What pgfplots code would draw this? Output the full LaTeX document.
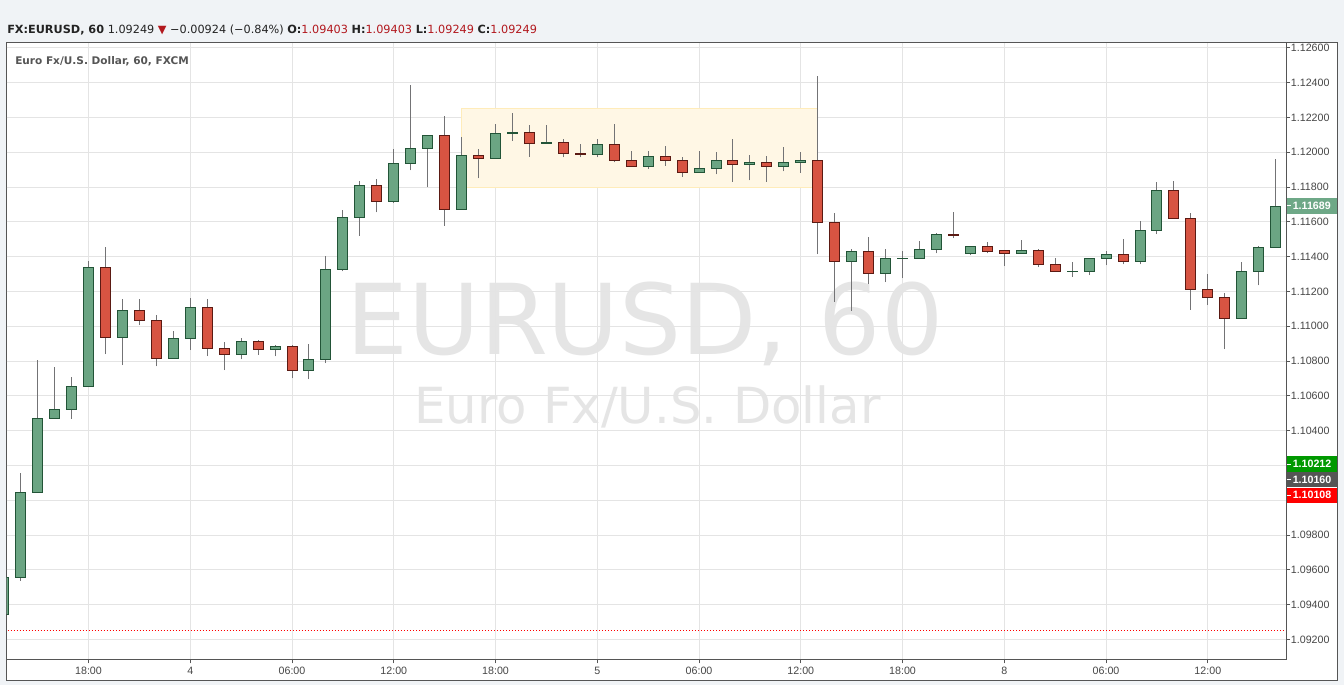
\documentclass[border=0pt]{standalone}
\usepackage{pgfplots}
\pgfplotsset{compat=1.18}
\usepackage{fontspec}
\setmainfont{Liberation Sans}
\newfontfamily\dv{DejaVu Sans}

\definecolor{bgc}{RGB}{240,243,246}
\definecolor{framec}{RGB}{85,85,85}
\definecolor{axc}{RGB}{85,85,85}
\definecolor{gridc}{RGB}{228,228,228}
\definecolor{lblc}{RGB}{70,70,70}
\definecolor{gf}{RGB}{107,165,131}
\definecolor{gb}{RGB}{34,84,55}
\definecolor{rf}{RGB}{215,84,66}
\definecolor{rb}{RGB}{91,26,19}
\definecolor{wick}{RGB}{115,115,117}
\definecolor{yf}{RGB}{255,247,229}
\definecolor{yb}{RGB}{255,236,186}
\definecolor{wmc}{RGB}{229,229,229}
\definecolor{hdrc}{RGB}{35,35,35}
\definecolor{valr}{RGB}{178,24,30}
\definecolor{titc}{RGB}{85,85,85}
\definecolor{b1}{RGB}{110,168,135}
\definecolor{b2}{RGB}{0,153,0}
\definecolor{b3}{RGB}{85,85,85}
\definecolor{b4}{RGB}{255,0,0}

% #1 index, #2 open, #3 high, #4 low, #5 close
\newcommand\candle[5]{%
  \ifdim#5pt<#2pt
    \def\cLo{#5}\def\cHi{#2}\def\cF{rf}\def\cB{rb}%
  \else
    \def\cLo{#2}\def\cHi{#5}\def\cF{gf}\def\cB{gb}%
  \fi
  \pgfmathsetmacro\xl{#1-0.295}%
  \pgfmathsetmacro\xr{#1+0.295}%
  \edef\tmp{%
    \noexpand\addplot[draw=wick, line width=0.75pt] coordinates {(#1,#4) (#1,#3)};
    \noexpand\addplot[draw=\cB, fill=\cF, line width=0.75pt] coordinates {(\xl,\cLo) (\xr,\cLo) (\xr,\cHi) (\xl,\cHi)} --cycle;}%
  \tmp
}

\begin{document}
\begin{tikzpicture}[x=0.75pt,y=-0.75pt]
\useasboundingbox (0,0) rectangle (1344,685);
\fill[bgc] (0,0) rectangle (1344,685);
\fill[white] (6.5,43) rectangle (1337,680);
\draw[framec, line width=0.75pt] (6.5,43) rectangle (1337,680);

% header
\node[anchor=base west, inner sep=0pt, text=hdrc, font=\dv\fontsize{8.45}{10}\selectfont] at (7,34)
 {\textbf{FX:EURUSD, 60}\ 1.09249 {\color{valr}▼} −0.00924 (−0.84\%) \textbf{O:}{\color{valr}1.09403} \textbf{H:}{\color{valr}1.09403} \textbf{L:}{\color{valr}1.09249} \textbf{C:}{\color{valr}1.09249}};

% watermark
\node[anchor=base, inner sep=0pt, text=wmc, font=\dv\fontsize{73.3}{80}\selectfont] at (645,354.5) {EURUSD, 60};
\node[anchor=base, inner sep=0pt, text=wmc, font=\dv\fontsize{37.3}{40}\selectfont] at (647.5,423.6) {Euro Fx/U.S. Dollar};

\begin{axis}[
  at={(4.875pt,-32.25pt)}, anchor=north west,
  scale only axis, width=959.625pt, height=462.2pt,
  xmin=-4.835, xmax=70.61, ymin=1.09086, ymax=1.12628,
  axis line style={draw=none},
  xtick={0,6,12,18,24,30,36,42,48,54,60,66},
  xticklabels={18:00,4,06:00,12:00,18:00,5,06:00,12:00,18:00,8,06:00,12:00},
  ytick={1.092,1.094,1.096,1.098,1.100,1.102,1.104,1.106,1.108,1.110,1.112,1.114,1.116,1.118,1.120,1.122,1.124,1.126},
  yticklabels={1.09200,1.09400,1.09600,1.09800,{},1.10200,1.10400,1.10600,1.10800,1.11000,1.11200,1.11400,1.11600,1.11800,1.12000,1.12200,1.12400,1.12600},
  xtick pos=left, ytick pos=right, yticklabel pos=right,
  tick align=outside, major tick length=3pt,
  tick style={draw=axc, line width=0.75pt},
  grid=major, major grid style={draw=gridc, line width=0.75pt},
  /pgf/number format/assume math mode=true,
  ticklabel style={font=\fontsize{8}{9}\selectfont, text=lblc},
  yticklabel style={anchor=west, inner sep=0pt, xshift=0.5pt},
  xticklabel style={anchor=north, inner sep=0pt, yshift=-2.5pt},
  clip=true,
]
% highlight rectangle
\addplot[fill=yf, draw=yb, line width=0.75pt] coordinates {(22,1.11796) (43,1.11796) (43,1.12252) (22,1.12252)} --cycle;
% last price line
\addplot[draw=red, line width=0.75pt, dash pattern=on 0.75pt off 1.5pt] coordinates {(-6,1.09249) (72,1.09249)};

\candle{-5}{1.09346}{1.09558}{1.09330}{1.09558}
\candle{-4}{1.09558}{1.10158}{1.09538}{1.10046}
\candle{-3}{1.10046}{1.10804}{1.10046}{1.10469}
\candle{-2}{1.10469}{1.10765}{1.10469}{1.10521}
\candle{-1}{1.10521}{1.10706}{1.10469}{1.10652}
\candle{0}{1.10652}{1.11377}{1.10652}{1.11335}
\candle{1}{1.11335}{1.11458}{1.10840}{1.10933}
\candle{2}{1.10933}{1.11154}{1.10777}{1.11090}
\candle{3}{1.11090}{1.11154}{1.11006}{1.11031}
\candle{4}{1.11031}{1.11063}{1.10769}{1.10813}
\candle{5}{1.10813}{1.10971}{1.10813}{1.10929}
\candle{6}{1.10929}{1.11165}{1.10863}{1.11106}
\candle{7}{1.11106}{1.11154}{1.10829}{1.10871}
\candle{8}{1.10871}{1.10908}{1.10748}{1.10838}
\candle{9}{1.10835}{1.10933}{1.10810}{1.10910}
\candle{10}{1.10910}{1.10919}{1.10835}{1.10869}
\candle{11}{1.10869}{1.10890}{1.10827}{1.10881}
\candle{12}{1.10881}{1.10890}{1.10700}{1.10744}
\candle{13}{1.10744}{1.10896}{1.10696}{1.10808}
\candle{14}{1.10808}{1.11406}{1.10788}{1.11325}
\candle{15}{1.11325}{1.11669}{1.11315}{1.11627}
\candle{16}{1.11627}{1.11835}{1.11521}{1.11810}
\candle{17}{1.11810}{1.11848}{1.11654}{1.11719}
\candle{18}{1.11719}{1.12019}{1.11706}{1.11938}
\candle{19}{1.11938}{1.12385}{1.11896}{1.12023}
\candle{20}{1.12023}{1.12098}{1.11798}{1.12098}
\candle{21}{1.12098}{1.12208}{1.11579}{1.11673}
\candle{22}{1.11673}{1.12088}{1.11673}{1.11983}
\candle{23}{1.11983}{1.12019}{1.11850}{1.11965}
\candle{24}{1.11965}{1.12163}{1.11965}{1.12108}
\candle{25}{1.12108}{1.12225}{1.12067}{1.12115}
\candle{26}{1.12115}{1.12156}{1.11975}{1.12052}
\candle{27}{1.12052}{1.12156}{1.12052}{1.12054}
\candle{28}{1.12056}{1.12077}{1.11971}{1.11994}
\candle{29}{1.11994}{1.12048}{1.11971}{1.11990}
\candle{30}{1.11990}{1.12077}{1.11971}{1.12046}
\candle{31}{1.12046}{1.12163}{1.11942}{1.11954}
\candle{32}{1.11954}{1.12008}{1.11919}{1.11919}
\candle{33}{1.11919}{1.12008}{1.11906}{1.11977}
\candle{34}{1.11977}{1.12035}{1.11923}{1.11954}
\candle{35}{1.11954}{1.11971}{1.11860}{1.11885}
\candle{36}{1.11885}{1.12008}{1.11885}{1.11908}
\candle{37}{1.11908}{1.12002}{1.11873}{1.11954}
\candle{38}{1.11954}{1.12077}{1.11831}{1.11931}
\candle{39}{1.11931}{1.11985}{1.11838}{1.11942}
\candle{40}{1.11942}{1.11977}{1.11831}{1.11921}
\candle{41}{1.11921}{1.12031}{1.11890}{1.11942}
\candle{42}{1.11942}{1.12000}{1.11883}{1.11954}
\candle{43}{1.11954}{1.12438}{1.11415}{1.11594}
\candle{44}{1.11594}{1.11652}{1.11140}{1.11375}
\candle{45}{1.11375}{1.11446}{1.11088}{1.11427}
\candle{46}{1.11427}{1.11515}{1.11242}{1.11306}
\candle{47}{1.11306}{1.11446}{1.11254}{1.11388}
\candle{48}{1.11388}{1.11435}{1.11277}{1.11390}
\candle{49}{1.11390}{1.11492}{1.11390}{1.11440}
\candle{50}{1.11440}{1.11537}{1.11419}{1.11525}
\candle{51}{1.11525}{1.11658}{1.11506}{1.11519}
\candle{52}{1.11419}{1.11462}{1.11408}{1.11456}
\candle{53}{1.11456}{1.11485}{1.11419}{1.11431}
\candle{54}{1.11433}{1.11437}{1.11346}{1.11421}
\candle{55}{1.11421}{1.11498}{1.11421}{1.11437}
\candle{56}{1.11437}{1.11446}{1.11340}{1.11356}
\candle{57}{1.11356}{1.11394}{1.11313}{1.11313}
\candle{58}{1.11313}{1.11367}{1.11285}{1.11317}
\candle{59}{1.11317}{1.11392}{1.11294}{1.11388}
\candle{60}{1.11388}{1.11435}{1.11350}{1.11415}
\candle{61}{1.11415}{1.11504}{1.11356}{1.11371}
\candle{62}{1.11371}{1.11606}{1.11356}{1.11548}
\candle{63}{1.11548}{1.11827}{1.11529}{1.11781}
\candle{64}{1.11781}{1.11835}{1.11617}{1.11617}
\candle{65}{1.11617}{1.11652}{1.11094}{1.11210}
\candle{66}{1.11210}{1.11298}{1.11121}{1.11165}
\candle{67}{1.11165}{1.11194}{1.10869}{1.11044}
\candle{68}{1.11044}{1.11367}{1.11044}{1.11313}
\candle{69}{1.11313}{1.11463}{1.11235}{1.11450}
\candle{70}{1.11450}{1.11963}{1.11450}{1.11689}
\end{axis}

% axis lines
\draw[axc, line width=0.75pt] (1286,43) -- (1286,659.3) -- (6.5,659.3);

% title
\node[anchor=base west, inner sep=0pt, text=titc, font=\dv\bfseries\fontsize{7.9}{9}\selectfont] at (15,64.5) {Euro Fx/U.S. Dollar, 60, FXCM};

% price badges
\foreach \yc/\cc/\tt in {205.8/b1/1.11689, 464/b2/1.10212, 479.6/b3/1.10160, 495.2/b4/1.10108}{
  \fill[\cc] (1286.5,\yc-7.7) rectangle (1336.6,\yc+7.7);
  \draw[white, line width=0.75pt] (1286.5,\yc) -- (1290.5,\yc);
  \node[anchor=west, inner sep=0pt, text=white, font=\bfseries\fontsize{8}{9}\selectfont] at (1292.5,\yc) {\tt};
}
\end{tikzpicture}
\end{document}
